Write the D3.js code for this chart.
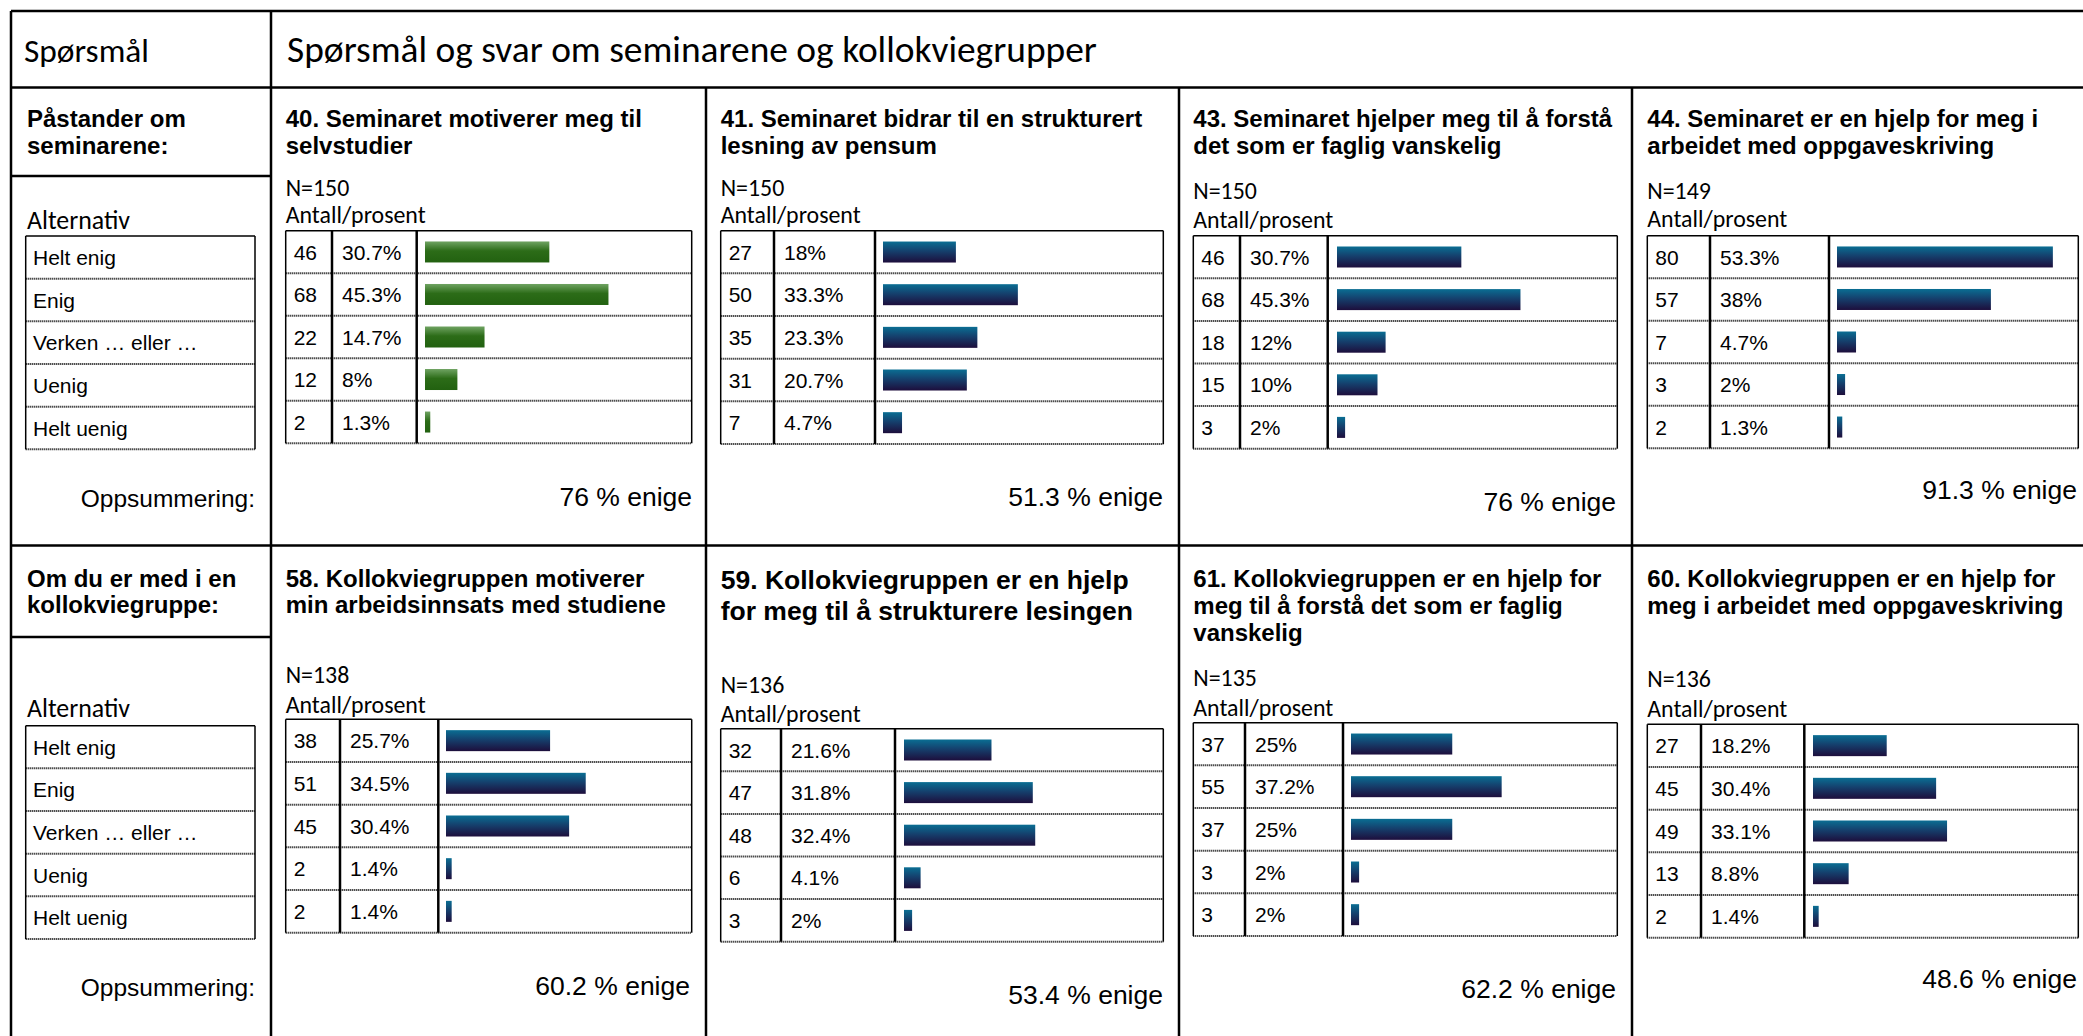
<!DOCTYPE html>
<html><head><meta charset="utf-8">
<script src="https://cdn.jsdelivr.net/npm/d3@7"></script>
<style>body{margin:0;background:#fff;} svg{display:block}</style>
</head><body>
<script>
// ---------- DATA ----------
const headerLeft = "Spørsmål";
const headerTitle = "Spørsmål og svar om seminarene og kollokviegrupper";
const sectionHeads = [["Påstander om","seminarene:"],["Om du er med i en","kollokviegruppe:"]];
const alternatives = ["Helt enig","Enig","Verken … eller …","Uenig","Helt uenig"];
const panelTitles = [
  ["40. Seminaret motiverer meg til","selvstudier"],
  ["41. Seminaret bidrar til en strukturert","lesning av pensum"],
  ["43. Seminaret hjelper meg til å forstå","det som er faglig vanskelig"],
  ["44. Seminaret er en hjelp for meg i","arbeidet med oppgaveskriving"],
  ["58. Kollokviegruppen motiverer","min arbeidsinnsats med studiene"],
  ["59. Kollokviegruppen er en hjelp","for meg til å strukturere lesingen"],
  ["61. Kollokviegruppen er en hjelp for","meg til å forstå det som er faglig","vanskelig"],
  ["60. Kollokviegruppen er en hjelp for","meg i arbeidet med oppgaveskriving"]
];
const respondents = [150,150,150,149,138,136,135,136];
const counts = [
  [46,68,22,12,2],[27,50,35,31,7],[46,68,18,15,3],[80,57,7,3,2],
  [38,51,45,2,2],[32,47,48,6,3],[37,55,37,3,3],[27,45,49,13,2]
];
const percents = [
  [30.7,45.3,14.7,8,1.3],[18,33.3,23.3,20.7,4.7],[30.7,45.3,12,10,2],[53.3,38,4.7,2,1.3],
  [25.7,34.5,30.4,1.4,1.4],[21.6,31.8,32.4,4.1,2],[25,37.2,25,2,2],[18.2,30.4,33.1,8.8,1.4]
];
const agreeShares = [76,51.3,76,91.3,60.2,53.4,62.2,48.6];

// ---------- LAYOUT (positions / styles) ----------
const layout = [
  {left:285.7,c1:332,c2:416.7,bar:425,right:691.7,t:[126.7,154],tf:24,n:195.7,a:223.3,top:230.7,bot:443.3,sr:692,sb:506,grad:"gGreen"},
  {left:720.7,c1:774,c2:875,bar:883,right:1163.3,t:[126.7,154],tf:24,n:195.7,a:223.3,top:230.7,bot:444,sr:1163,sb:506,grad:"gBlue"},
  {left:1193.3,c1:1240,c2:1327.7,bar:1337,right:1617.3,t:[126.7,154],tf:24,n:199,a:228.3,top:235.7,bot:448.7,sr:1616,sb:511,grad:"gBlue"},
  {left:1647.3,c1:1710,c2:1829,bar:1837,right:2078.3,t:[126.7,154],tf:24,n:199,a:227.3,top:235.7,bot:448.3,sr:2077,sb:499,grad:"gBlue"},
  {left:285.7,c1:340,c2:438.3,bar:446,right:691.7,t:[586.7,613],tf:24,n:683,a:712.7,top:719.3,bot:932.7,sr:690,sb:995,grad:"gBlue"},
  {left:720.7,c1:781,c2:895,bar:904,right:1163.3,t:[589,620],tf:26.5,n:692.7,a:721.7,top:728.7,bot:941.7,sr:1163,sb:1004,grad:"gBlue"},
  {left:1193.3,c1:1245,c2:1343,bar:1351,right:1617.3,t:[586.7,614,640.7],tf:24,n:685.7,a:715.7,top:722.7,bot:936,sr:1616,sb:998,grad:"gBlue"},
  {left:1647.3,c1:1701,c2:1804.3,bar:1813,right:2078.3,t:[586.7,614],tf:24,n:687.3,a:717.3,top:724.3,bot:937.7,sr:2077,sb:988,grad:"gBlue"}
];
const leftLayout = [
  {h:[126.7,154],div:176,alt:228.5,top:236,bot:449.3,opp:507},
  {h:[586.7,613],div:637,alt:716.7,top:725.7,bot:939,opp:996}
];
const ARIAL = "'Liberation Sans', Arial, sans-serif";
const CAL = "Carlito, Lato, 'Open Sans', sans-serif";

const W = 2083, H = 1036;
const svg = d3.select("body").append("svg").attr("width", W).attr("height", H);
const defs = svg.append("defs");
function grad(id, stops){
  const lg = defs.append("linearGradient").attr("id", id).attr("x1",0).attr("y1",0).attr("x2",0).attr("y2",1);
  stops.forEach(s => lg.append("stop").attr("offset", s[0]).attr("stop-color", s[1]));
}
grad("gBlue", [["0%","#0a6e93"],["45%","#15406d"],["100%","#1d0e3c"]]);
grad("gGreen", [["0%","#6fa362"],["45%","#2c6c18"],["100%","#226110"]]);

const g = svg.append("g");
function line(x1,y1,x2,y2,w,dotted){
  const l = g.append("line").attr("x1",x1).attr("y1",y1).attr("x2",x2).attr("y2",y2)
    .attr("stroke","#000").attr("stroke-width",w);
  if (dotted) l.attr("stroke-dasharray","1,1");
  return l;
}
function text(x,y,str,size,family,opts={}){
  return g.append("text").attr("x",x).attr("y",y).text(str)
    .attr("font-size",size).attr("font-family",family)
    .attr("font-weight",opts.bold?"bold":"normal")
    .attr("text-anchor",opts.anchor||"start").attr("fill","#000");
}
// font size at which a sample string reaches a target width
function fitSize(str, target, family){
  const t = g.append("text").attr("font-size",20).attr("font-family",family).text(str);
  const w = t.node().getComputedTextLength();
  t.remove();
  return 20 * target / w;
}
const headSize = fitSize(headerTitle, 810, CAL);
const headLeftSize = fitSize(headerLeft, 125, CAL);
const smallCal = fitSize("Antall/prosent", 140, CAL);
const altSize = fitSize("Alternativ", 103, CAL);

// main grid
const GW = 2.5;
line(11,11,W,11,GW);
line(11,11,11,H,GW);
line(271,11,271,H,GW);
line(11,87.5,W,87.5,GW);
line(11,545.5,W,545.5,GW);
[706,1179,1632].forEach(x => line(x,87.5,x,H,GW));
leftLayout.forEach(L => line(11,L.div,271,L.div,GW));

// header
text(24,62,headerLeft,headLeftSize,CAL);
text(287,62,headerTitle,headSize,CAL);

// left column
leftLayout.forEach((L,s) => {
  sectionHeads[s].forEach((t,k) => text(27,L.h[k],t,24,ARIAL,{bold:true}));
  text(27,L.alt,"Alternativ",altSize,CAL);
  const y = d3.scaleBand().domain(d3.range(alternatives.length)).range([L.top,L.bot]);
  line(25.7,L.top,255,L.top,1.5);
  line(25.7,L.top,25.7,L.bot,1.5);
  line(255,L.top,255,L.bot,1.5);
  alternatives.forEach((a,k) => {
    line(25.7,y(k)+y.bandwidth(),255,y(k)+y.bandwidth(),2,true);
    text(33,y(k)+y.bandwidth()*0.68,a,21,ARIAL);
  });
  text(255,L.opp,"Oppsummering:",24.5,ARIAL,{anchor:"end"});
});

// panels
const xScale = d3.scaleLinear().domain([0,100]).range([0,405]);
layout.forEach((L,i) => {
  panelTitles[i].forEach((t,k) => text(L.left,L.t[k],t,L.tf,ARIAL,{bold:true}));
  text(L.left,L.n,"N=" + respondents[i],smallCal,CAL);
  text(L.left,L.a,"Antall/prosent",smallCal,CAL);
  const y = d3.scaleBand().domain(d3.range(counts[i].length)).range([L.top,L.bot]);
  const bw = y.bandwidth();
  g.selectAll(null).data(percents[i]).enter().append("rect")
    .attr("x",L.bar).attr("y",(d,k)=>y(k)+(bw-21)/2)
    .attr("width",d=>xScale(d)).attr("height",21)
    .attr("fill","url(#"+L.grad+")");
  line(L.left,L.top,L.right,L.top,1.5);
  line(L.left,L.top,L.left,L.bot,1.5);
  line(L.right,L.top,L.right,L.bot,1.5);
  line(L.c1,L.top,L.c1,L.bot,2.5);
  line(L.c2,L.top,L.c2,L.bot,2.5);
  counts[i].forEach((c,k) => {
    line(L.left,y(k)+bw,L.right,y(k)+bw,2,true);
    text(L.left+8,y(k)+bw*0.68,String(c),21,ARIAL);
    text(L.c1+10,y(k)+bw*0.68,percents[i][k]+"%",21,ARIAL);
  });
  text(L.sr,L.sb,agreeShares[i]+" % enige",26.5,ARIAL,{anchor:"end"});
});
</script>
</body></html>
